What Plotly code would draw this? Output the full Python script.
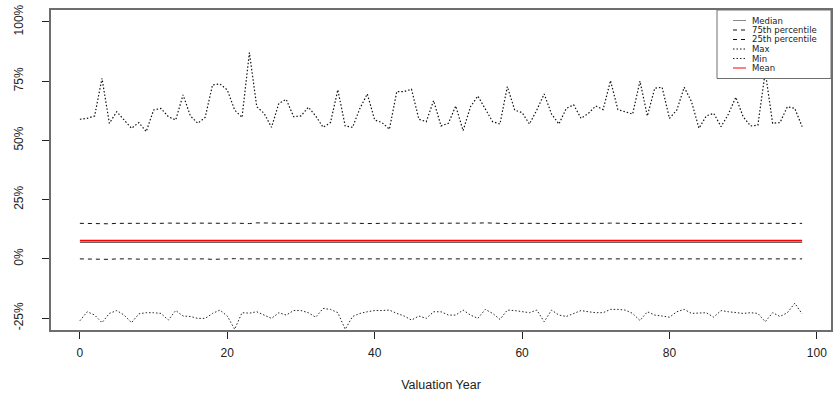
import plotly.graph_objects as go

years = list(range(99))

max_vals = [58.9, 59.3, 60.3, 76.2, 57.2, 62.1, 58.6, 55.1, 57.5, 53.7,
            62.8, 63.5, 60.0, 58.6, 69.2, 60.3, 57.2, 59.7, 73.4, 73.8,
            71.3, 62.8, 59.7, 87.0, 64.2, 61.4, 55.5, 65.6, 67.3, 60.0,
            60.3, 64.0, 60.3, 55.5, 57.5, 71.3, 56.1, 55.5, 63.5, 69.6,
            58.6, 57.5, 54.7, 70.6, 70.6, 71.6, 58.9, 57.9, 66.8, 56.1,
            57.2, 64.5, 54.1, 64.2, 68.7, 63.5, 57.9, 56.9, 72.7, 62.8,
            61.7, 56.9, 62.8, 69.6, 61.1, 56.9, 63.5, 65.0, 59.3, 61.4,
            64.5, 63.0, 75.2, 63.0, 62.1, 61.1, 75.0, 60.3, 72.0, 72.4,
            59.3, 62.8, 72.4, 66.3, 55.1, 60.3, 61.4, 55.8, 61.1, 68.2,
            60.0, 56.1, 56.4, 79.0, 57.2, 57.5, 64.2, 63.5, 55.8]

min_vals = [-26.1, -22.3, -23.7, -26.9, -23.0, -21.8, -23.7, -26.9, -23.2, -22.7,
            -22.7, -23.0, -25.8, -21.8, -24.1, -24.3, -25.1, -25.1, -23.0, -21.6,
            -24.1, -29.7, -22.7, -22.9, -22.3, -23.7, -25.1, -22.7, -23.7, -21.8,
            -21.8, -22.7, -24.6, -20.9, -21.3, -22.7, -29.7, -24.3, -23.0, -22.3,
            -21.8, -21.8, -21.6, -23.0, -24.1, -25.8, -24.1, -25.1, -22.3, -22.3,
            -23.7, -23.7, -21.6, -23.7, -25.1, -21.3, -23.0, -25.5, -21.6, -21.8,
            -22.3, -22.7, -21.6, -26.5, -21.6, -23.7, -24.3, -23.0, -21.8, -22.3,
            -22.7, -22.7, -21.3, -21.3, -21.6, -23.0, -26.0, -22.3, -23.7, -24.1,
            -24.6, -22.3, -21.3, -23.0, -23.0, -22.7, -24.6, -21.8, -22.3, -22.7,
            -23.0, -22.7, -23.0, -26.5, -22.7, -24.3, -22.7, -18.7, -23.2]

p75_vals = [15.0, 14.9, 15.0, 15.0, 14.8, 15.0, 15.1, 14.9, 15.0, 15.0,
            14.9, 15.0, 15.1, 15.0, 14.9, 15.0, 15.1, 15.0, 15.2, 15.0,
            15.0, 15.1, 15.0, 14.9, 15.2, 15.0, 15.1, 15.0, 14.9, 15.0,
            15.0, 15.1, 15.0, 14.9, 15.0, 15.0, 15.1, 15.2, 15.0, 14.9,
            15.0, 14.8, 15.0, 15.1, 15.0, 15.0, 14.9, 15.1, 15.0, 15.0,
            15.0, 14.9, 15.0, 14.8, 15.1, 15.2, 15.0, 15.0, 14.9, 15.0,
            15.1, 15.0, 15.0, 14.9, 15.0, 15.1, 15.2, 15.0, 15.0, 14.9,
            15.0, 15.0, 15.1, 15.0, 15.0, 15.0, 14.9, 15.0, 15.1, 15.0,
            15.0, 15.0, 15.1, 15.0, 15.0, 14.9, 15.0, 15.0, 15.1, 15.0,
            15.0, 15.0, 15.3, 15.0, 15.0, 15.0, 14.9, 15.0, 15.0]

p25_vals = [0.0, -0.1, 0.0, 0.0, -0.2, 0.0, 0.1, 0.0, -0.1, 0.0,
            0.0, 0.1, 0.0, -0.1, 0.0, 0.0, 0.1, 0.0, -0.2, 0.0,
            0.0, 0.1, 0.0, 0.0, -0.1, 0.0, 0.0, 0.1, 0.0, -0.1,
            0.0, 0.0, 0.1, 0.0, -0.2, -0.1, 0.0, 0.0, 0.1, 0.0,
            0.0, -0.1, 0.0, 0.0, 0.1, 0.0, -0.1, 0.0, 0.0, 0.1,
            0.0, 0.0, -0.1, 0.0, 0.1, 0.0, 0.0, -0.2, 0.0, 0.0,
            0.1, 0.0, 0.0, -0.1, 0.0, 0.0, -0.2, 0.0, 0.0, 0.1,
            0.0, -0.1, 0.0, 0.0, 0.1, 0.0, 0.0, -0.1, 0.0, 0.0,
            0.0, 0.1, 0.0, 0.0, -0.1, 0.0, 0.0, 0.1, 0.0, 0.0,
            -0.1, 0.0, 0.0, 0.1, 0.0, 0.0, -0.1, 0.0, 0.0]

mean_vals = [7.8, 7.8, 7.9, 7.8, 7.8, 7.9, 7.8, 7.7, 7.8, 7.9,
             7.8, 7.8, 7.9, 7.8, 7.8, 7.7, 7.8, 7.9, 8.0, 7.8,
             7.8, 7.9, 7.8, 7.8, 7.7, 7.8, 7.8, 7.9, 7.8, 7.7,
             7.8, 7.8, 7.9, 7.8, 7.7, 7.8, 7.9, 7.8, 7.8, 7.9,
             7.8, 7.8, 7.7, 7.8, 7.8, 7.9, 7.8, 7.7, 7.8, 7.8,
             7.8, 7.9, 7.8, 7.8, 7.7, 7.8, 7.8, 7.9, 7.8, 7.8,
             7.7, 7.8, 7.8, 7.9, 7.8, 7.8, 7.7, 7.8, 7.9, 7.8,
             7.8, 7.7, 7.8, 7.8, 7.9, 7.8, 7.7, 7.8, 7.8, 7.9,
             7.8, 7.8, 7.7, 7.8, 7.8, 7.9, 7.8, 7.8, 7.7, 7.8,
             7.8, 7.9, 7.8, 7.8, 7.8, 7.7, 7.8, 7.9, 7.8]

median_vals = [7.1, 7.1, 7.0, 7.1, 7.2, 7.1, 7.0, 6.9, 7.1, 7.2,
               7.1, 7.0, 7.1, 7.2, 7.1, 7.0, 6.9, 7.0, 7.1, 7.2,
               7.1, 7.1, 7.0, 7.1, 7.0, 6.9, 7.1, 7.2, 7.1, 7.0,
               7.1, 7.0, 7.1, 7.1, 6.9, 7.0, 7.1, 7.2, 7.0, 6.9,
               7.1, 7.1, 7.0, 6.9, 7.1, 7.1, 7.2, 7.1, 7.0, 7.1,
               7.1, 7.0, 7.1, 7.2, 7.1, 7.0, 6.9, 7.1, 7.1, 7.0,
               7.1, 7.2, 7.1, 7.0, 7.1, 7.1, 6.9, 7.0, 7.1, 7.2,
               7.0, 7.1, 7.1, 7.0, 6.9, 7.1, 7.2, 7.1, 7.0, 7.1,
               7.1, 7.0, 7.1, 7.1, 7.2, 7.0, 6.9, 7.1, 7.1, 7.0,
               7.1, 7.1, 7.0, 7.2, 7.1, 7.0, 7.1, 7.1, 7.1]

y_ticks = [-25, 0, 25, 50, 75, 100]
y_tick_labels = ["-25%", "0%", "25%", "50%", "75%", "100%"]
x_ticks = [0, 20, 40, 60, 80, 100]

legend_names = ["Median", "75th percentile", "25th percentile", "Max", "Min", "Mean"]

DOT = "1.5px,2px"
DASH = "4px,4px"
styles = {
    "Median": dict(color="#333333", width=1.2, dash="solid"),
    "75th percentile": dict(color="#111111", width=1, dash=DASH),
    "25th percentile": dict(color="#111111", width=1, dash=DASH),
    "Max": dict(color="#111111", width=1.2, dash=DOT),
    "Min": dict(color="#222222", width=1, dash=DOT),
    "Mean": dict(color="#ff0000", width=1.2, dash="solid"),
}
series = {
    "Median": median_vals,
    "75th percentile": p75_vals,
    "25th percentile": p25_vals,
    "Max": max_vals,
    "Min": min_vals,
    "Mean": mean_vals,
}

fig = go.Figure()
for name in legend_names:
    fig.add_trace(go.Scatter(x=years, y=series[name], mode="lines", name=name,
                             line=styles[name], showlegend=False, hoverinfo="skip"))

# body margin is removed by the post script, so figure coords == page coords
W, H = 837, 400
L, T, R = 51, 10, 6
B = H - 330
pw, ph = W - L - R, H - T - B

def px_x(p):
    return (p - L) / pw

def px_y(p):
    return (T + ph - p) / ph

shapes = []
annotations = []
# legend box
shapes.append(dict(type="rect", xref="paper", yref="paper",
                   x0=px_x(717), x1=1.0, y0=px_y(78.5), y1=1.0,
                   line=dict(color="#6e6e6e", width=1), fillcolor="white", layer="above"))
row_y = [20.5, 30, 39.5, 49, 58.5, 68]
for name, yy in zip(legend_names, row_y):
    st = styles[name]
    shapes.append(dict(type="line", xref="paper", yref="paper",
                       x0=px_x(733), x1=px_x(746), y0=px_y(yy), y1=px_y(yy),
                       line=dict(color=st["color"] if name != "Median" else "#888888",
                                 width=1, dash=st["dash"]), layer="above"))
    annotations.append(dict(xref="paper", yref="paper", x=px_x(751), y=px_y(yy),
                            xanchor="left", yanchor="middle", text=name, showarrow=False,
                            borderpad=0,
                            font=dict(family="DejaVu Sans", size=8.5, color="#222222")))

fig.update_layout(
    width=W, height=H,
    margin=dict(l=L, r=R, t=T, b=B, autoexpand=False),
    paper_bgcolor="white", plot_bgcolor="white",
    showlegend=False,
    font=dict(family="Liberation Sans, Arial", size=12, color="#222222"),
    shapes=shapes, annotations=annotations,
)
fig.update_xaxes(range=[-3.92, 101.92], tickvals=x_ticks, showgrid=False, zeroline=False,
                 automargin=False,
                 showline=True, mirror=True, linecolor="#6e6e6e", linewidth=1.5,
                 ticks="outside", ticklen=7, tickcolor="#222222", tickwidth=1,
                 ticklabelstandoff=4, ticklabeloverflow="allow",
                 title=dict(text="Valuation Year", standoff=21,
                            font=dict(family="Liberation Sans, Arial", size=12.5, color="#222222")))
fig.update_yaxes(range=[-30, 105], tickvals=y_ticks, ticktext=y_tick_labels, tickangle=-90,
                 automargin=False, ticklabeloverflow="allow",
                 showgrid=False, zeroline=False,
                 showline=True, mirror=True, linecolor="#6e6e6e", linewidth=1.5,
                 ticks="outside", ticklen=7, tickcolor="#222222", tickwidth=1,
                 ticklabelstandoff=14)

fig.write_html("out.html", config={"displayModeBar": False},
               post_script="document.body.style.margin='0px';document.body.style.padding='0px';")
